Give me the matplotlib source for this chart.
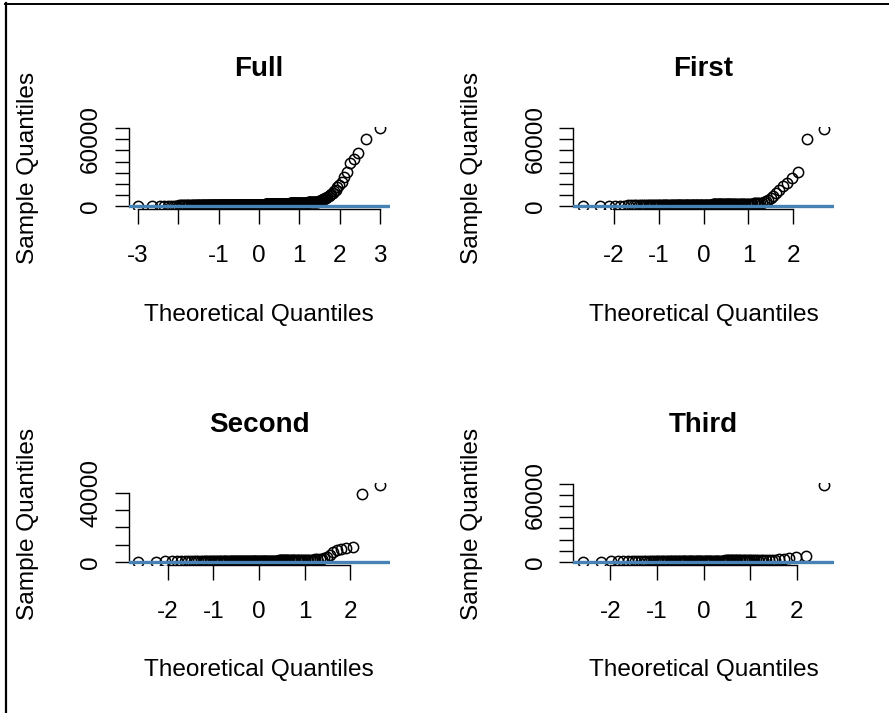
import numpy as np
import matplotlib
matplotlib.use("Agg")
import matplotlib.pyplot as plt
from matplotlib.lines import Line2D
from statistics import NormalDist

plt.rcParams['font.family'] = ['Liberation Sans', 'DejaVu Sans']

# Sorted sample values per period: bulk given as (level, count) runs,
# followed by the individual values of the upper tail.
full_levels = [0, 400, 800, 1000, 1300, 1600, 2000, 2500, 3000, 3600, 4200]
full_counts = [3, 5, 50, 80, 70, 50, 30, 25, 15, 10, 6]
full_tail = [4500, 4800, 5100, 5400, 5800, 6200, 6700, 7200, 7800, 8500, 9300,
             10200, 11200, 12300, 13500, 15000, 17000, 19000, 21900, 26400,
             31000, 38500, 42000, 47500, 60000, 70000]

first_levels = [0, 500, 1000, 1300, 1700, 2200, 2800]
first_counts = [2, 4, 30, 45, 30, 10, 5]
first_tail = [3300, 3900, 4600, 5500, 7000, 9000, 11500, 14500, 18000, 21000,
              25000, 31000, 60000, 69000]

second_levels = [0, 300, 600, 800, 1000, 1300, 1800]
second_counts = [2, 6, 35, 40, 20, 8, 4]
second_tail = [2500, 3000, 4300, 6000, 7000, 7600, 8000, 8700, 39500, 44800]

third_levels = [0, 500, 1000, 1300, 1600, 2000]
third_counts = [2, 4, 30, 35, 20, 8]
third_tail = [2700, 3000, 3500, 4000, 5000, 68800]

panel_titles = ["Full", "First", "Second", "Third"]
y_upper = [68000, 68000, 44000, 68000]
y_tick_max = [70000, 70000, 40000, 70000]
y_label_values = [[0, 60000], [0, 60000], [0, 40000], [0, 60000]]
x_tick_values = [[-3, -2, -1, 0, 1, 2, 3], [-2, -1, 0, 1, 2],
                 [-2, -1, 0, 1, 2], [-2, -1, 0, 1, 2]]
x_hidden_labels = [[-2], [], [], []]

samples = [
    np.concatenate([np.repeat(full_levels, full_counts), full_tail]),
    np.concatenate([np.repeat(first_levels, first_counts), first_tail]),
    np.concatenate([np.repeat(second_levels, second_counts), second_tail]),
    np.concatenate([np.repeat(third_levels, third_counts), third_tail]),
]


def theoretical_quantiles(n):
    a = 3 / 8 if n <= 10 else 0.5
    nd = NormalDist()
    return np.array([nd.inv_cdf((i - a) / (n + 1 - 2 * a)) for i in range(1, n + 1)])


W, H = 889, 713
fig = plt.figure(figsize=(W / 100, H / 100), dpi=100)

col_left = [128.5, 573.0]
row_top = [127.3, 483.0]
pw, ph = 261.0, 82.0

for k in range(4):
    r, c = divmod(k, 2)
    ax = fig.add_axes([col_left[c] / W, 1 - (row_top[r] + ph) / H, pw / W, ph / H])
    y = np.sort(samples[k])
    x = theoretical_quantiles(len(y))

    ax.plot(x, y, linestyle='none', marker='o', markersize=7.4,
            markerfacecolor='none', markeredgecolor='black', markeredgewidth=1.1,
            zorder=2)
    ax.axhline(0, color='#4682B4', lw=2.4, zorder=3)

    xr = x.max() - x.min()
    ax.set_xlim(x.min() - 0.04 * xr, x.max() + 0.04 * xr)
    ax.set_ylim(-0.04 * y_upper[k], 1.04 * y_upper[k])

    for s in ['top', 'right']:
        ax.spines[s].set_visible(False)
    for s in ['left', 'bottom']:
        ax.spines[s].set_linewidth(1.0)

    xt = x_tick_values[k]
    xl = ['' if v in x_hidden_labels[k] else str(v) for v in xt]
    ax.set_xticks(xt, xl)
    yt = list(range(0, y_tick_max[k] + 1, 10000))
    yl = [str(v) if v in y_label_values[k] else '' for v in yt]
    ax.set_yticks(yt, yl, rotation=90, va='center')
    ax.spines['bottom'].set_bounds(xt[0], xt[-1])
    ax.spines['left'].set_bounds(yt[0], yt[-1])

    ax.tick_params(axis='x', direction='out', length=10.8, width=1.0, pad=15,
                   labelsize=17.5)
    ax.tick_params(axis='y', direction='out', length=10.0, width=1.0, pad=9,
                   labelsize=17.5)

    ax.set_title(panel_titles[k], fontsize=20, fontweight='bold', pad=37)
    ax.set_xlabel("Theoretical Quantiles", fontsize=17.6, va='center')
    ax.xaxis.set_label_coords(0.5, -1.285)
    ax.set_ylabel("Sample Quantiles", fontsize=17.6, va='center')
    ax.yaxis.set_label_coords(-0.386, 0.5)

# outer frame (top and left edges)
fig.add_artist(Line2D([5.2 / W, 1.0], [1 - 3.5 / H, 1 - 3.5 / H],
                      transform=fig.transFigure, color='black', lw=1.4))
fig.add_artist(Line2D([6.2 / W, 6.2 / W], [0.0, 1 - 3.0 / H],
                      transform=fig.transFigure, color='black', lw=1.6))

fig.savefig("out.png", dpi=100)
